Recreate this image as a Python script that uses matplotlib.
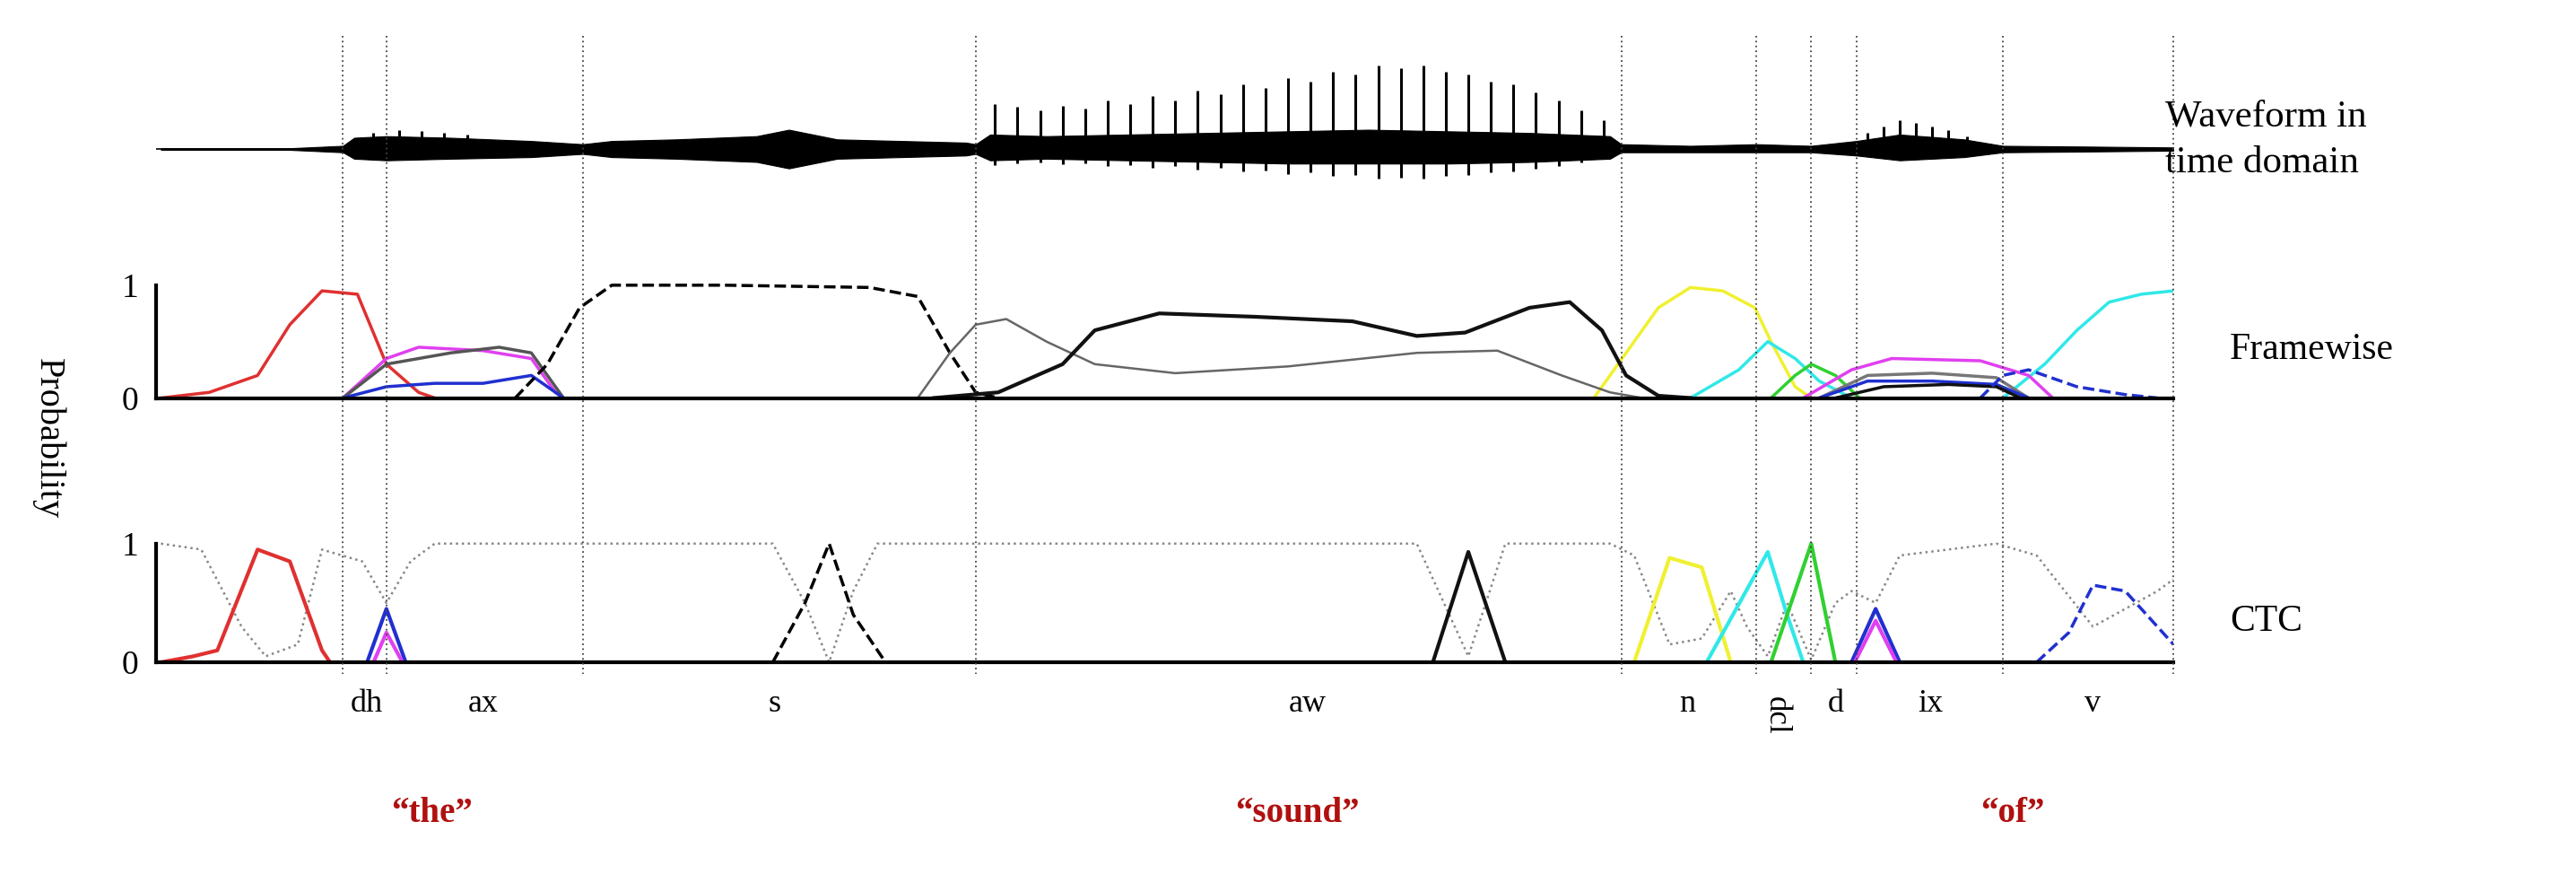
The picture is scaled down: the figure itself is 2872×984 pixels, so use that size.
import matplotlib
matplotlib.use("Agg")
import matplotlib.pyplot as plt

W, H = 1600, 548
X0, X1 = 97, 1350

boundaries = [213, 240, 362, 606, 1007, 1091, 1125, 1153, 1244, 1350]
phones = ["dh", "ax", "s", "aw", "n", "dcl", "d", "ix", "v"]
phone_x = [228, 300, 481, 812, 1048, 1103, 1140, 1199, 1300]
words = ["\u201cthe\u201d", "\u201csound\u201d", "\u201cof\u201d"]
word_x = [268, 806, 1250]

env_x = [100, 180, 213, 220, 240, 280, 330, 362, 380, 420, 470, 490, 520, 560, 600, 606, 615, 650, 700, 750, 800, 850, 900, 950, 1000, 1007, 1050, 1091, 1125, 1153, 1180, 1220, 1244, 1300, 1350]
env_up = [0.5, 0.5, 2, 7, 8, 7, 5, 3, 5, 6, 8, 12, 6, 5, 4, 3, 9, 8, 9, 10, 11, 12, 11, 10, 8, 3, 2, 3, 2, 5, 9, 6, 2, 1.5, 1]
env_dn = [0.5, 0.5, 2, 6, 7, 6, 5, 3, 5, 6, 8, 12, 6, 5, 4, 3, 7, 6, 7, 8, 9, 9, 9, 8, 6, 2, 2, 2, 2, 4, 7, 5, 2, 1.5, 1]
# glottal pulses (position, peak height)
pulse_x = [618, 632, 646, 660, 674, 688, 702, 716, 730, 744, 758, 772, 786, 800, 814, 828, 842, 856, 870, 884, 898, 912, 926, 940, 954, 968, 982, 996,
           1160, 1170, 1180, 1190, 1200, 1210, 1222, 232, 248, 262, 276, 290]
pulse_h = [28, 26, 24, 27, 25, 30, 28, 33, 30, 36, 34, 40, 38, 44, 42, 48, 46, 52, 50, 52, 48, 46, 42, 40, 35, 30, 24, 18,
           10, 14, 18, 16, 14, 12, 8, 10, 12, 11, 10, 9]

frame = {
    "red": ([100,130,160,180,200,222,240,260,270],[0,0.05,0.2,0.65,0.95,0.92,0.3,0.05,0]),
    "magenta": ([213,240,260,300,330,345,350],[0,0.35,0.45,0.42,0.35,0.05,0]),
    "dimgray": ([213,240,280,310,330,350],[0,0.3,0.4,0.45,0.4,0]),
    "blue": ([213,240,270,300,330,350],[0,0.1,0.13,0.13,0.2,0]),
    "cyan2": ([1244,1270,1290,1310,1330,1350],[0,0.3,0.6,0.85,0.92,0.95]),
    "yellow": ([990,1010,1030,1050,1070,1090,1100,1115,1125],[0,0.4,0.8,0.98,0.95,0.8,0.5,0.1,0]),
    "cyan": ([1050,1080,1098,1115,1130,1150],[0,0.25,0.5,0.35,0.15,0]),
    "green": ([1100,1115,1125,1140,1155],[0,0.2,0.3,0.2,0]),
    "magenta2": ([1120,1150,1175,1230,1260,1275],[0,0.25,0.35,0.33,0.2,0]),
    "gray_ix": ([1130,1160,1200,1240,1260],[0,0.2,0.22,0.18,0]),
    "blue_ix": ([1130,1160,1200,1240,1260],[0,0.15,0.15,0.12,0]),
    "black_ix": ([1140,1170,1210,1240,1255],[0,0.1,0.12,0.1,0]),
}
frame_colors = {"red":"#e03030","magenta":"#e040f0","dimgray":"#555555","blue":"#2030d0","cyan2":"#30e8e8",
                "yellow":"#f0f030","cyan":"#30e8e8","green":"#30d030","magenta2":"#e040f0","gray_ix":"#777777",
                "blue_ix":"#2030d0","black_ix":"#111111"}
s_x = [320,340,360,380,450,540,570,590,606,620]
s_y = [0,0.3,0.8,1,1,0.98,0.9,0.4,0.05,0]
aw_gray_x = [570,590,606,625,650,680,730,800,880,930,970,1000,1020]
aw_gray_y = [0,0.4,0.65,0.7,0.5,0.3,0.22,0.28,0.4,0.42,0.2,0.05,0]
aw_x = [580,620,660,680,720,780,840,880,910,950,975,995,1010,1030,1050]
aw_y = [0,0.05,0.3,0.6,0.75,0.72,0.68,0.55,0.58,0.8,0.85,0.6,0.2,0.02,0]
v_x = [1230,1244,1260,1290,1320,1340]
v_y = [0,0.2,0.25,0.1,0.03,0]

ctc = {
    "red": ([100,120,135,160,180,200,205],[0,0.05,0.1,0.95,0.85,0.1,0],"#e03030"),
    "blue": ([228,240,252],[0,0.45,0],"#2030d0"),
    "magenta": ([232,240,250],[0,0.25,0],"#e040f0"),
    "aw": ([890,912,935],[0,0.93,0],"#111111"),
    "yellow": ([1015,1037,1057,1075],[0,0.88,0.8,0],"#f0f030"),
    "cyan": ([1060,1098,1110,1120],[0,0.93,0.4,0],"#30e8e8"),
    "green": ([1100,1125,1140],[0,1,0],"#30d030"),
    "blue2": ([1150,1165,1180],[0,0.45,0],"#2030d0"),
    "magenta2": ([1152,1165,1178],[0,0.35,0],"#e040f0"),
}
ctc_s_x = [480,500,515,530,550]
ctc_s_y = [0,0.5,1,0.4,0]
ctc_v_x = [1265,1285,1300,1320,1340,1350]
ctc_v_y = [0,0.25,0.65,0.6,0.3,0.15]
blank_x = [100,125,150,165,185,200,225,240,255,270,480,500,515,530,545,880,912,935,1000,1015,1037,1057,1075,1085,1098,1110,1125,1140,1150,1165,1180,1240,1265,1300,1340,1350]
blank_y = [1,0.95,0.3,0.05,0.15,0.95,0.85,0.5,0.85,1,1,0.5,0,0.6,1,1,0.05,1,1,0.9,0.15,0.2,0.6,0.3,0.05,0.5,0.02,0.5,0.6,0.5,0.9,1,0.9,0.3,0.6,0.7]

serif = "Liberation Serif"
fig = plt.figure(figsize=(28.72, 9.84), dpi=100)

def add_ax(top, bottom):
    return fig.add_axes([X0/W, 1-bottom/H, (X1-X0)/W, (bottom-top)/H])

axw = add_ax(20, 165)
axw.fill_between(env_x, [-d for d in env_dn], env_up, color="black", lw=0.8)
axw.vlines(pulse_x, [-0.35*h for h in pulse_h], pulse_h, color="black", lw=2.2)
axw.plot([X0, X1], [0, 0], color="black", lw=1.2)
axw.set_xlim(X0, X1); axw.set_ylim(-72.5, 72.5); axw.axis("off")

def style(ax):
    ax.set_xlim(X0, X1); ax.set_ylim(0, 1.1)
    for s in ["top", "right"]:
        ax.spines[s].set_visible(False)
    ax.spines["left"].set_linewidth(3); ax.spines["bottom"].set_linewidth(3)
    ax.spines["left"].set_bounds(0, 1)
    ax.set_xticks([]); ax.set_yticks([0, 1]); ax.set_yticklabels(["0", "1"])
    ax.tick_params(axis="y", length=0, labelsize=27, pad=14)
    for t in ax.get_yticklabels():
        t.set_fontfamily(serif)
    ax.patch.set_alpha(0)

axf = add_ax(170, 247)
style(axf)
for k, (xs, ys) in frame.items():
    axf.plot(xs, ys, color=frame_colors[k], lw=2.5)
axf.plot(s_x, s_y, color="black", lw=2.5, ls="--")
axf.plot(aw_gray_x, aw_gray_y, color="#666666", lw=1.8)
axf.plot(aw_x, aw_y, color="#111111", lw=3)
axf.plot(v_x, v_y, color="#2030d0", lw=2.5, ls="--")

axc = add_ax(330, 411)
style(axc)
axc.plot(blank_x, blank_y, color="#888888", lw=1.8, ls=":")
for k, (xs, ys, c) in ctc.items():
    axc.plot(xs, ys, color=c, lw=3)
axc.plot(ctc_s_x, ctc_s_y, color="black", lw=2.5, ls="--")
axc.plot(ctc_v_x, ctc_v_y, color="#2030d0", lw=2.5, ls="--")

ov = fig.add_axes([0, 0, 1, 1])
ov.set_xlim(0, W); ov.set_ylim(H, 0); ov.axis("off"); ov.patch.set_alpha(0)
for b in boundaries:
    ov.plot([b, b], [22, 418], color="#444444", lw=1.3, ls=(0, (1, 2)))
for p, x in zip(phones, phone_x):
    if p == "dcl":
        ov.text(x, 432, p, rotation=-90, ha="center", va="top", fontsize=25, fontfamily=serif)
    else:
        ov.text(x, 437, p, ha="center", va="center", fontsize=26, fontfamily=serif)
for w, x in zip(words, word_x):
    ov.text(x, 505, w, ha="center", va="center", fontsize=28, fontweight="bold", color="#b01010", fontfamily=serif)
ov.text(1345, 87, "Waveform in\ntime domain", ha="left", va="center", fontsize=31, fontfamily=serif, linespacing=1.45)
ov.text(1385, 217, "Framewise", ha="left", va="center", fontsize=30, fontfamily=serif)
ov.text(1385, 386, "CTC", ha="left", va="center", fontsize=30, fontfamily=serif)
ov.text(30, 272, "Probability", rotation=-90, ha="center", va="center", fontsize=29, fontfamily=serif)

fig.savefig("out.png", dpi=100)
